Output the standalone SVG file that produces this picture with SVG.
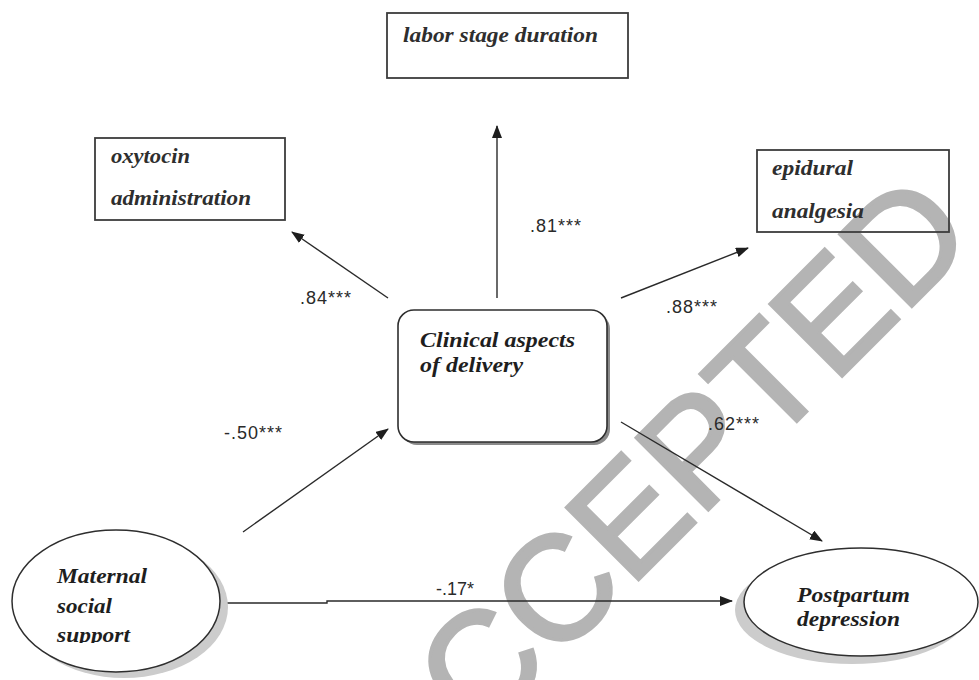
<svg xmlns="http://www.w3.org/2000/svg" width="979" height="680" viewBox="0 0 979 680">
<style>
.box{fill:none;stroke:#3c3c3c;stroke-width:1.8}
.lbl{font-family:"Liberation Serif","Times New Roman",serif;font-style:italic;font-weight:bold;font-size:22px;fill:#2e2e2e}
.num{font-family:"Liberation Sans",Arial,sans-serif;font-size:18px;fill:#2a2a2a}
.con{fill:none;stroke:#2a2a2a;stroke-width:1.4}
.wm{font-family:"Liberation Sans",Arial,sans-serif;font-size:148px;fill:#b4b4b4;stroke:#b4b4b4;stroke-width:3.5}
</style>
<defs>
<marker id="ah" markerUnits="userSpaceOnUse" markerWidth="13" markerHeight="11" refX="12" refY="5" orient="auto">
<path d="M0,0 L13,5 L0,10 z" fill="#1e1e1e"/>
</marker>
<clipPath id="clipSup"><rect x="0" y="620" width="240" height="23"/></clipPath>
</defs>
<rect width="979" height="680" fill="#ffffff"/>
<text class="wm" transform="translate(694,524) rotate(-45)" text-anchor="middle">ACCEPTED</text>

<g id="connectors">
<path class="con" d="M497,298 L497,126" marker-end="url(#ah)"/>
<path class="con" d="M388,298 L292,232" marker-end="url(#ah)"/>
<path class="con" d="M621,298 L748,248" marker-end="url(#ah)"/>
<path class="con" d="M243,532 L388,429" marker-end="url(#ah)"/>
<path class="con" d="M621,422 L822,541" marker-end="url(#ah)"/>
<path class="con" d="M226,603 L327,603 L327,601 L732,601" stroke-width="2" marker-end="url(#ah)"/>
<text class="num" x="530" y="232" letter-spacing="1">.81***</text>
<text class="num" x="300" y="304" letter-spacing="1">.84***</text>
<text class="num" x="666" y="313" letter-spacing="1">.88***</text>
<text class="num" x="224" y="439" letter-spacing="1">-.50***</text>
<text class="num" x="708" y="430" letter-spacing="1">.62***</text>
<text class="num" x="436" y="595">-.17*</text>
</g>

<g id="labor">
<rect class="box" x="387" y="13" width="241" height="65"/>
<text class="lbl" x="403" y="42" textLength="195" lengthAdjust="spacingAndGlyphs">labor stage duration</text>
</g>

<g id="oxytocin">
<rect class="box" x="95" y="138" width="190" height="82"/>
<text class="lbl" x="111" y="163" textLength="79" lengthAdjust="spacingAndGlyphs">oxytocin</text>
<text class="lbl" x="111" y="205" textLength="140" lengthAdjust="spacingAndGlyphs">administration</text>
</g>

<g id="epidural">
<rect class="box" x="757" y="150" width="192" height="82"/>
<text class="lbl" x="772" y="175" textLength="81" lengthAdjust="spacingAndGlyphs">epidural</text>
<text class="lbl" x="772" y="218" textLength="92" lengthAdjust="spacingAndGlyphs">analgesia</text>
</g>

<g id="clinical">
<rect x="401" y="313" width="209" height="132" rx="16" fill="#8a8a8a"/>
<rect x="398" y="310" width="209" height="132" rx="16" fill="#ffffff" stroke="#2e2e2e" stroke-width="1.6"/>
<text class="lbl" x="420" y="347" textLength="155" lengthAdjust="spacingAndGlyphs" style="fill:#1e1e1e">Clinical aspects</text>
<text class="lbl" x="420" y="372" textLength="103" lengthAdjust="spacingAndGlyphs" style="fill:#1e1e1e">of delivery</text>
</g>

<g id="maternal">
<ellipse cx="124" cy="607" rx="104" ry="71" fill="#cccccc"/>
<ellipse cx="116" cy="601" rx="104" ry="71" fill="#ffffff" stroke="#2e2e2e" stroke-width="1.5"/>
<text class="lbl" x="57" y="583" textLength="90" lengthAdjust="spacingAndGlyphs" style="fill:#1e1e1e">Maternal</text>
<text class="lbl" x="57" y="613" textLength="55" lengthAdjust="spacingAndGlyphs" style="fill:#1e1e1e">social</text>
<text class="lbl" x="57" y="642" textLength="73" lengthAdjust="spacingAndGlyphs" clip-path="url(#clipSup)" style="fill:#1e1e1e">support</text>
</g>

<g id="postpartum">
<ellipse cx="852" cy="610" rx="117" ry="54" fill="#cccccc"/>
<ellipse cx="861" cy="602" rx="117" ry="54" fill="#ffffff" stroke="#2e2e2e" stroke-width="1.5"/>
<text class="lbl" x="797" y="602" textLength="113" lengthAdjust="spacingAndGlyphs" style="fill:#1e1e1e">Postpartum</text>
<text class="lbl" x="797" y="626" textLength="103" lengthAdjust="spacingAndGlyphs" style="fill:#1e1e1e">depression</text>
</g>
</svg>
